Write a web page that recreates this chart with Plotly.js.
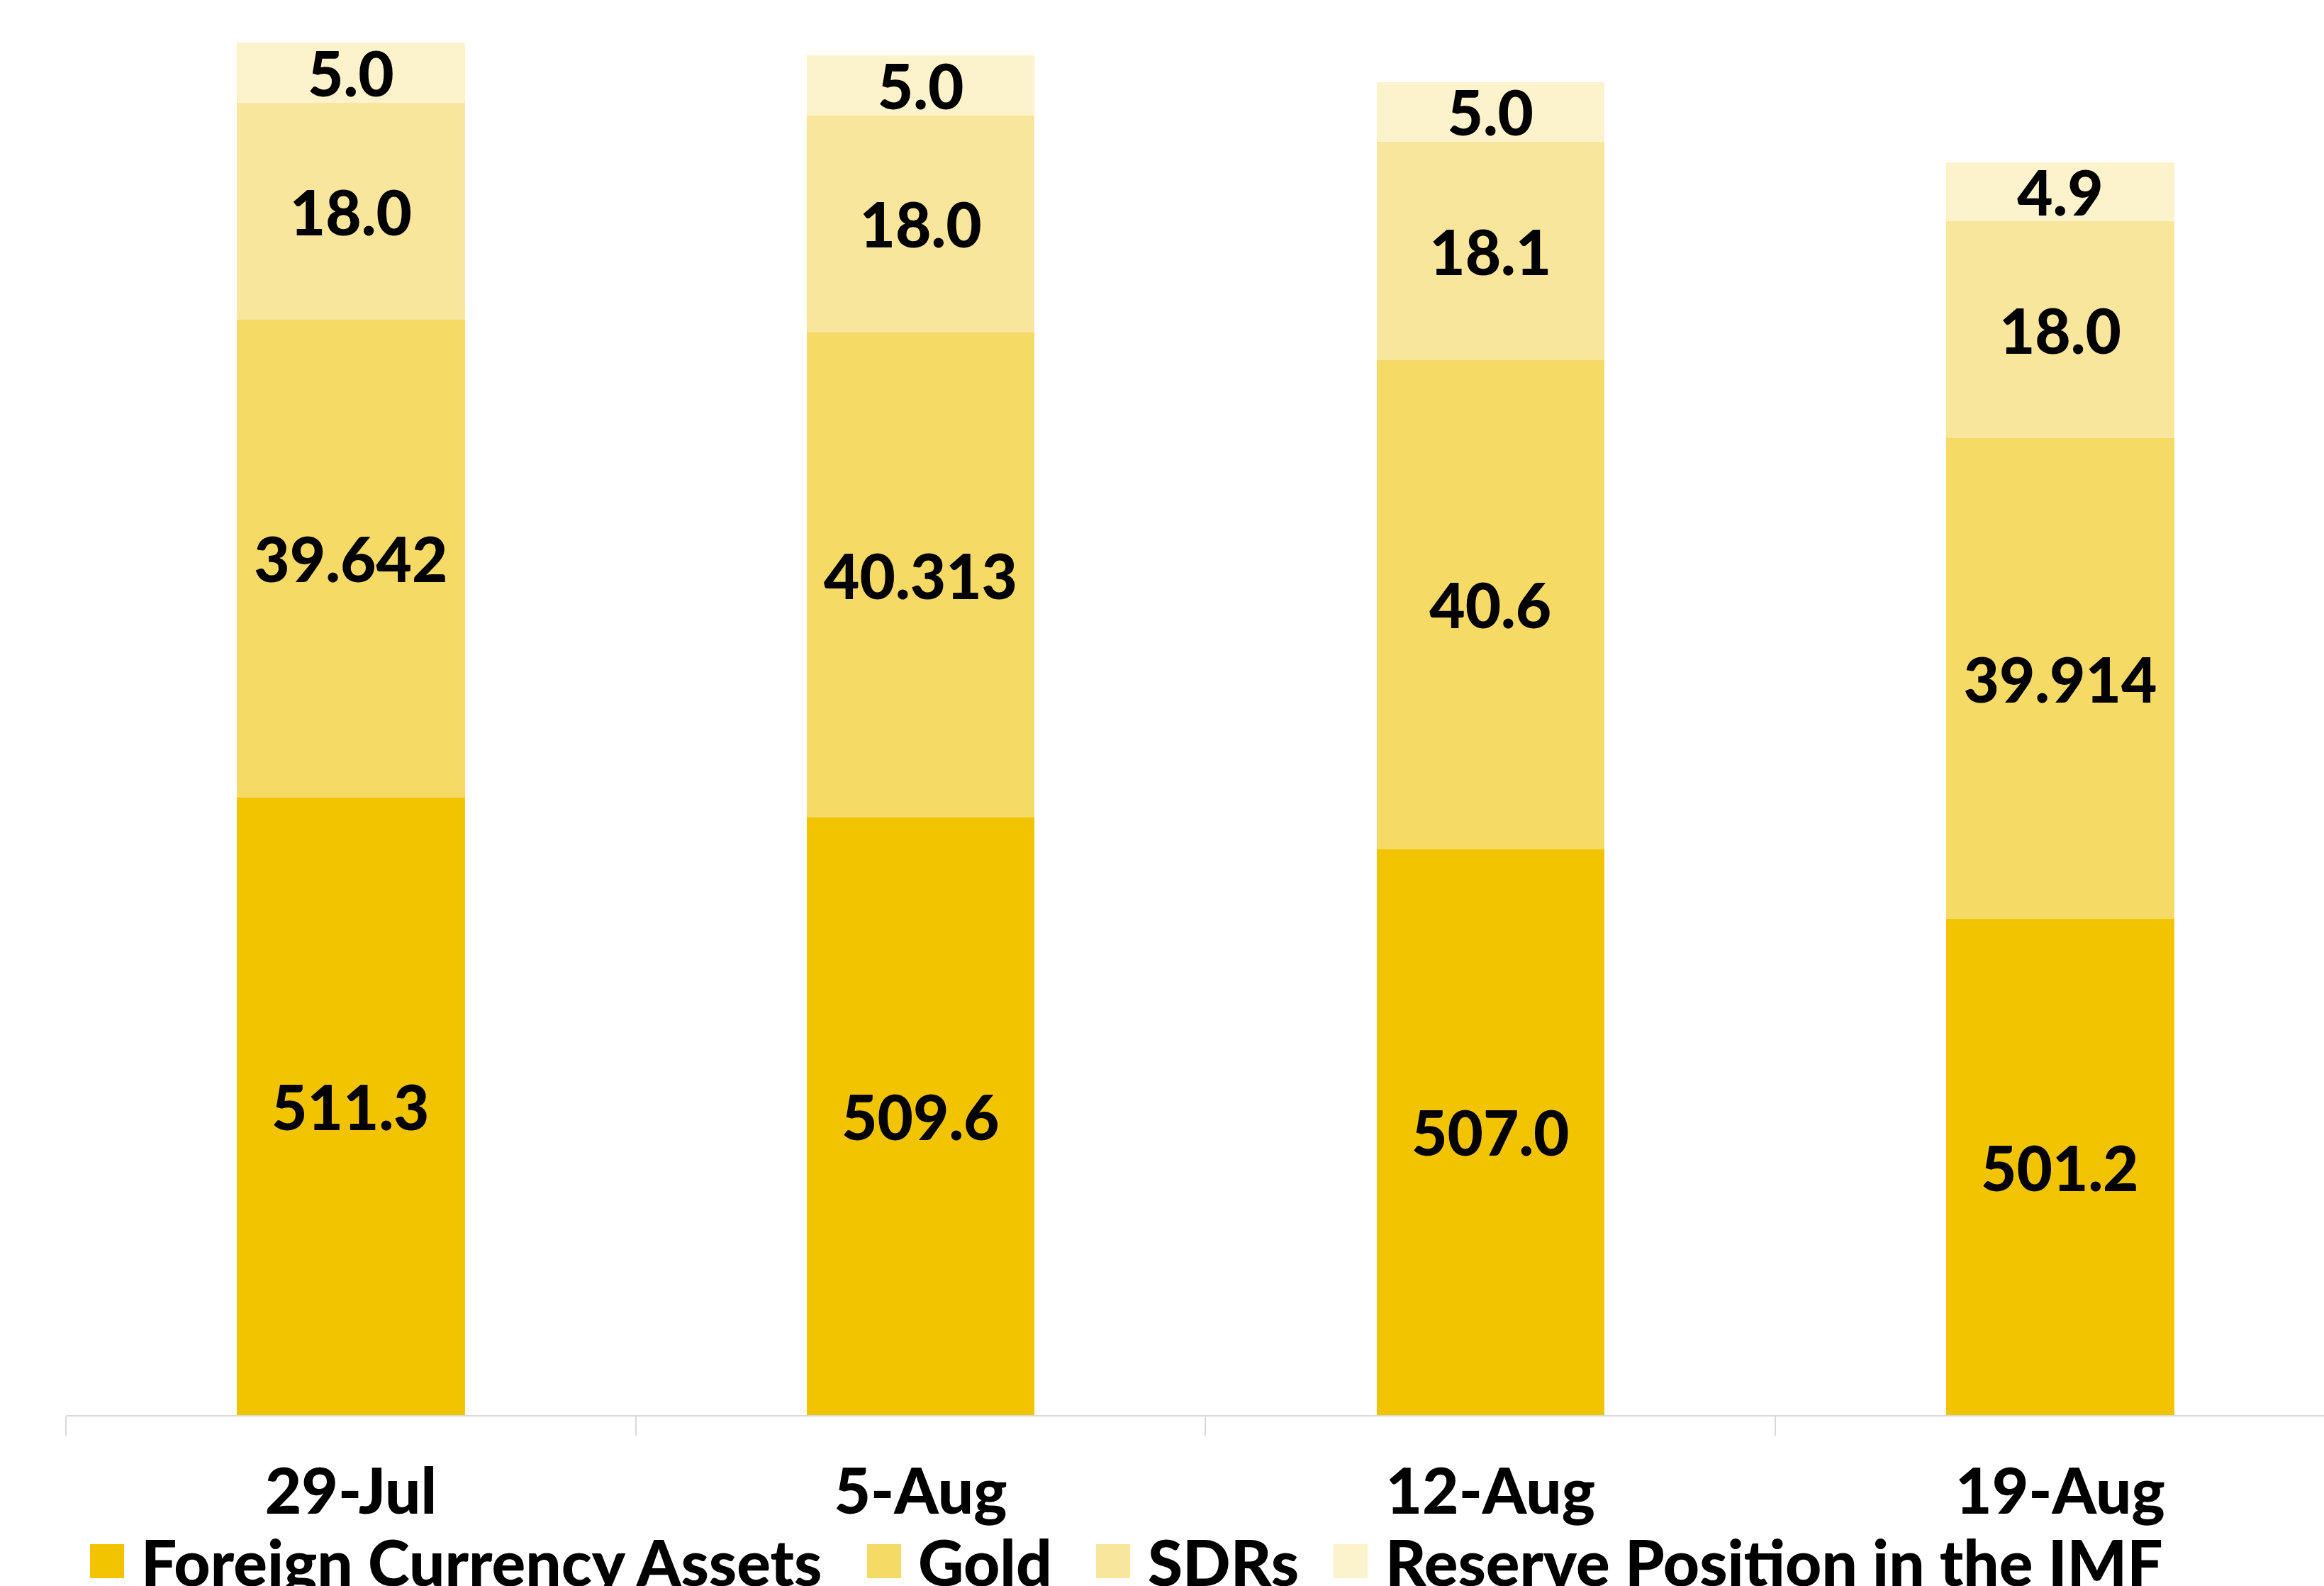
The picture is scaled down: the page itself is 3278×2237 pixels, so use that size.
<!DOCTYPE html>
<html><head><meta charset="utf-8">
<script src="https://cdn.plot.ly/plotly-3.0.1.min.js"></script>
<style>html,body{margin:0;padding:0;background:#fff}#chart{width:3278px;height:2237px}</style>
</head><body><div id="chart"></div>
<script>
// ---- data ----
const dates = ['29-Jul', '5-Aug', '12-Aug', '19-Aug'];
const seriesNames = ['Foreign Currency Assets', 'Gold', 'SDRs', 'Reserve Position in the IMF'];
const foreignCurrencyAssets = [511.3, 509.6, 507.0, 501.2];
const gold = [39.642, 40.313, 40.6, 39.914];
const sdrs = [18.0, 18.0, 18.1, 18.0];
const reservePositionIMF = [5.0, 5.0, 5.0, 4.9];
const fcaLabels = ['511.3', '509.6', '507.0', '501.2'];
const goldLabels = ['39.642', '40.313', '40.6', '39.914'];
const sdrLabels = ['18.0', '18.0', '18.1', '18.0'];
const imfLabels = ['5.0', '5.0', '5.0', '4.9'];

// ---- style ----
const colors = ['#F2C400', '#F6DA66', '#F7E69B', '#FCF2CB'];
const FONT = 'Lato, "Open Sans", sans-serif';
const W = 3278, H = 2237;
const M = {l: 93, r: 0, t: 0, b: 241};
const AXIS_MIN = 460, AXIS_MAX = 577.5;
const LABEL_FONT = {family: FONT, size: 87, color: '#000000', weight: 900};

const seriesValues = [foreignCurrencyAssets, gold, sdrs, reservePositionIMF];
const seriesLabels = [fcaLabels, goldLabels, sdrLabels, imfLabels];

const traces = seriesValues.map((vals, i) => ({
  type: 'bar',
  name: seriesNames[i],
  x: dates,
  y: vals,
  text: seriesLabels[i],
  // the bottom series starts below the visible axis range, so its labels are
  // placed as annotations at the middle of the visible part of each bar
  textposition: i === 0 ? 'none' : 'inside',
  insidetextanchor: 'middle',
  constraintext: 'none',
  textfont: LABEL_FONT,
  marker: {color: colors[i], line: {width: 0}},
  hoverinfo: 'skip',
  showlegend: false
}));

const fcaAnnotations = dates.map((d, k) => ({
  xref: 'x', yref: 'y',
  x: d, y: (AXIS_MIN + foreignCurrencyAssets[k]) / 2,
  text: fcaLabels[k], showarrow: false,
  xanchor: 'center', yanchor: 'middle',
  font: LABEL_FONT
}));

// custom legend (big square keys like the original)
const plotW = W - M.l - M.r, plotH = H - M.t - M.b;
const px2x = px => (px - M.l) / plotW;
const py2y = py => (M.t + plotH - py) / plotH;
const keyLeft = [127, 1223, 1546, 1881];
const textLeft = [197, 1293, 1617, 1952];
const keyTop = 2178, keySize = 48;

const shapes = seriesNames.map((n, i) => ({
  type: 'rect', xref: 'paper', yref: 'paper',
  x0: px2x(keyLeft[i]), x1: px2x(keyLeft[i] + keySize),
  y0: py2y(keyTop + keySize), y1: py2y(keyTop),
  fillcolor: colors[i], line: {width: 0}
}));
const legendAnnotations = seriesNames.map((n, i) => ({
  xref: 'paper', yref: 'paper',
  x: px2x(textLeft[i]), y: py2y(keyTop + keySize / 2),
  xanchor: 'left', yanchor: 'middle',
  text: n, showarrow: false,
  font: {family: FONT, size: 89, color: '#000000', weight: 900}
}));

const layout = {
  width: W, height: H,
  margin: M,
  paper_bgcolor: '#ffffff', plot_bgcolor: '#ffffff',
  barmode: 'stack',
  bargap: 0.6,
  showlegend: false,
  xaxis: {
    type: 'category',
    range: [-0.5, -0.5 + plotW / 803.7],
    tickson: 'boundaries',
    ticks: 'outside', ticklen: 27, tickwidth: 2, tickcolor: '#D9D9D9',
    showline: true, linecolor: '#D9D9D9', linewidth: 2,
    showgrid: false, zeroline: false,
    ticklabelstandoff: 30,
    tickfont: {family: FONT, size: 89, color: '#000000', weight: 900}
  },
  yaxis: {range: [AXIS_MIN, AXIS_MAX], visible: false, showgrid: false, zeroline: false},
  shapes: shapes,
  annotations: fcaAnnotations.concat(legendAnnotations)
};

Plotly.newPlot('chart', traces, layout, {staticPlot: true, displayModeBar: false});
</script>
</body></html>
